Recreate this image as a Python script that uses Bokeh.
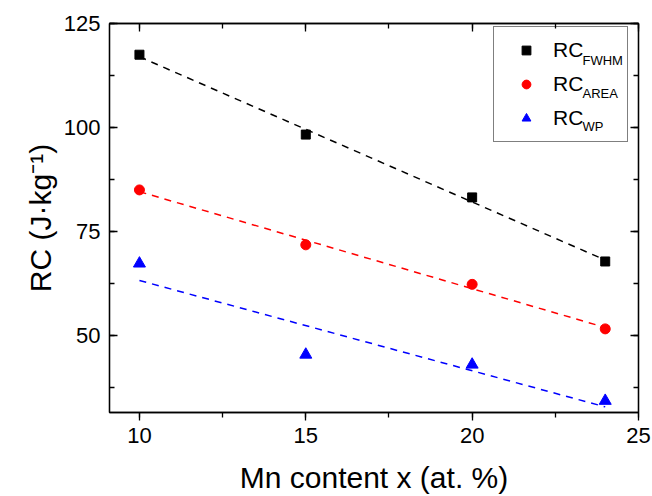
import numpy as np
from bokeh.plotting import figure
from bokeh.models import (Range1d, LinearAxis, SingleIntervalTicker, Label,
                          Legend, LegendItem, CustomJSTickFormatter)
from bokeh.embed import file_html
from bokeh.resources import INLINE

# ---- data ----
mn_content = [10, 15, 20, 24]
rc_fwhm = [117.5, 98.3, 83.2, 67.8]
rc_area = [85.0, 71.8, 62.3, 51.6]
rc_wp = [67.3, 45.4, 43.0, 34.3]
series_names = ["FWHM", "AREA", "WP"]
x_title = "Mn content x (at. %)"
y_title = "RC (J\u00b7kg\u207b\u00b9)"

FONT = "Liberation Sans"

p = figure(width=652, height=496, output_backend="svg", toolbar_location=None,
           x_range=Range1d(9.1, 25), y_range=Range1d(31.5, 125),
           min_border_left=109, min_border_right=14, min_border_top=23,
           min_border_bottom=84, background_fill_color="white",
           border_fill_color="white")
p.grid.visible = False
p.outline_line_color = "black"
p.outline_line_width = 1.3

xt = SingleIntervalTicker(interval=5, num_minor_ticks=2)
yt = SingleIntervalTicker(interval=25, num_minor_ticks=2)

def style_axis(ax):
    ax.axis_line_color = "black"
    ax.axis_line_width = 1.3
    ax.major_tick_line_color = "black"
    ax.minor_tick_line_color = "black"
    ax.major_tick_line_width = 1.3
    ax.minor_tick_line_width = 1.3
    ax.major_label_text_font = FONT
    ax.major_label_text_font_size = "22px"
    ax.major_label_text_color = "black"
    ax.axis_label_text_font = FONT
    ax.axis_label_text_font_size = "30px"
    ax.axis_label_text_font_style = "normal"
    ax.axis_label_text_color = "black"

xa = p.xaxis[0]
xa.ticker = xt
style_axis(xa)
xa.major_tick_in = 0
xa.major_tick_out = 8
xa.minor_tick_in = 0
xa.minor_tick_out = 5
xa.major_label_standoff = 7
xa.axis_label = x_title
xa.axis_label_standoff = 15

ya = p.yaxis[0]
ya.ticker = yt
style_axis(ya)
ya.major_tick_in = 8
ya.major_tick_out = 0
ya.minor_tick_in = 5
ya.minor_tick_out = 0
ya.major_label_standoff = 9
ya.axis_label = y_title
ya.axis_label_standoff = 4

blank = CustomJSTickFormatter(code="return '';")
for loc, iv in (("above", 5), ("right", 25)):
    ax = LinearAxis(ticker=SingleIntervalTicker(interval=iv, num_minor_ticks=2),
                    formatter=blank)
    style_axis(ax)
    ax.major_tick_in = 8
    ax.major_tick_out = 0
    ax.minor_tick_in = 5
    ax.minor_tick_out = 0
    ax.major_label_standoff = 0
    p.add_layout(ax, loc)

colors = ["black", "red", "blue"]
markers = ["square", "circle", "triangle"]
sizes = [9, 10, 12]
series = [rc_fwhm, rc_area, rc_wp]

xs = np.array(mn_content, dtype=float)
items = []
for name, ys, col, mk, sz in zip(series_names, series, colors, markers, sizes):
    ys = np.array(ys, dtype=float)
    k, b = np.polyfit(xs, ys, 1)
    fx = [xs[0], xs[-1]]
    fy = [k * xs[0] + b, k * xs[-1] + b]
    p.line(fx, fy, line_color=col, line_width=1.5, line_dash="7 6")
    r = p.scatter(xs, ys, marker=mk, size=sz, fill_color=col, line_color=col)
    items.append(LegendItem(label="RC", renderers=[r]))

legend = Legend(items=items, location=(384, 270), orientation="vertical",
                padding=11, spacing=10, glyph_width=42, glyph_height=22,
                label_standoff=6, label_width=63, label_height=22, margin=0,
                border_line_color="black", border_line_width=1,
                background_fill_alpha=0,
                label_text_font=FONT, label_text_font_size="21px",
                label_text_color="black", label_text_baseline="middle")
p.add_layout(legend, "center")

# subscripts of legend labels
for i, name in enumerate(series_names):
    p.add_layout(Label(x=473, y=352 - 33 * i, x_units="screen", y_units="screen",
                       text=name, text_font=FONT, text_font_size="13px",
                       text_color="black", text_align="left",
                       text_baseline="alphabetic"))

open("out.html", "w").write(file_html(p, INLINE))
